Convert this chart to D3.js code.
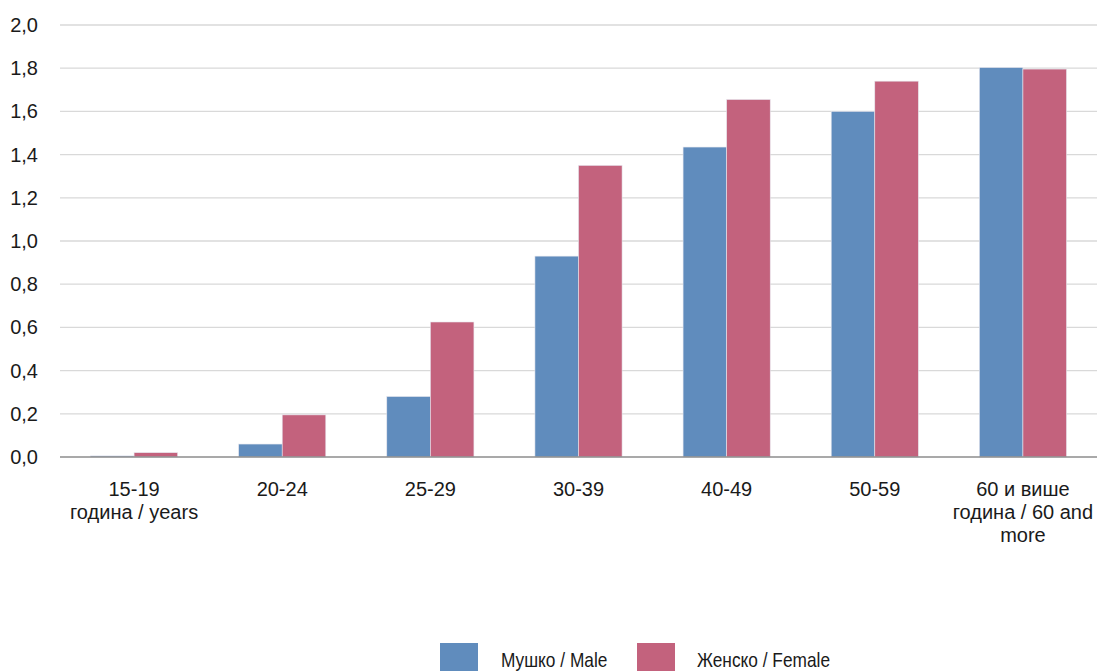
<!DOCTYPE html>
<html><head><meta charset="utf-8">
<script src="https://cdn.jsdelivr.net/npm/d3@7"></script>
<style>body{margin:0;background:#fff;} text{font-family:"Liberation Sans",Arial,sans-serif;fill:#1a1a1a;}</style>
</head><body><svg id="c" width="1097" height="671"></svg>
<script>
const categories = [["15-19","година / years"],["20-24"],["25-29"],["30-39"],["40-49"],["50-59"],["60 и више","година / 60 and","more"]];
const male = [0.005,0.06,0.28,0.93,1.435,1.60,1.803];
const female = [0.02,0.195,0.625,1.35,1.655,1.74,1.796];
const seriesNames = ["Мушко / Male","Женско / Female"];
const colors = ["#608cbd","#c3627d"];
const yTicks = [0,0.2,0.4,0.6,0.8,1.0,1.2,1.4,1.6,1.8,2.0];

const svg = d3.select("#c");
const pL=60, pR=1097, pT=25, pB=457;
const x = d3.scaleBand().domain(d3.range(categories.length)).range([pL,pR]);
const x1 = d3.scaleBand().domain([0,1]).range([0,x.bandwidth()]).paddingOuter(0.7).paddingInner(0);
const y = d3.scaleLinear().domain([0,2]).range([pB,pT]);

const fmt = v => d3.format(".1f")(v).replace(".",",");
svg.append("g").selectAll("line").data(yTicks.filter(d=>d>0)).join("line")
  .attr("x1",pL).attr("x2",pR).attr("y1",d=>y(d)).attr("y2",d=>y(d))
  .attr("stroke","#d9d9d9").attr("stroke-width",1.3);
svg.append("g").selectAll("text").data(yTicks).join("text")
  .attr("x",38).attr("y",d=>y(d)+7).attr("text-anchor","end")
  .attr("font-size",20).text(fmt);

const data=[male,female];
data.forEach((arr,s)=>{
  svg.append("g").selectAll("rect").data(arr).join("rect")
    .attr("x",(d,i)=>x(i)+x1(s)).attr("width",x1.bandwidth())
    .attr("y",d=>y(d)).attr("height",d=>y(0)-y(d))
    .attr("fill",colors[s]).attr("stroke","#e6e6ee").attr("stroke-width",0.6);
});
svg.append("line").attr("x1",pL).attr("x2",pR).attr("y1",y(0)).attr("y2",y(0))
  .attr("stroke","#8c8c8c").attr("stroke-width",1.5);

const xl = svg.append("g");
categories.forEach((lines,i)=>{
  const cx = x(i)+x.bandwidth()/2;
  const t = xl.append("text").attr("x",cx).attr("y",496).attr("text-anchor","middle").attr("font-size",20);
  lines.forEach((l,j)=>t.append("tspan").attr("x",cx).attr("dy",j?23:0).text(l));
});

const lg = svg.append("g");
const lx=[440,637], tx=[501,697];
seriesNames.forEach((n,s)=>{
  lg.append("rect").attr("x",lx[s]).attr("y",643).attr("width",38).attr("height",28).attr("fill",colors[s]);
  lg.append("text").attr("transform",`translate(${tx[s]},667) scale(0.865,1)`).attr("font-size",20).text(n);
});
</script></body></html>
